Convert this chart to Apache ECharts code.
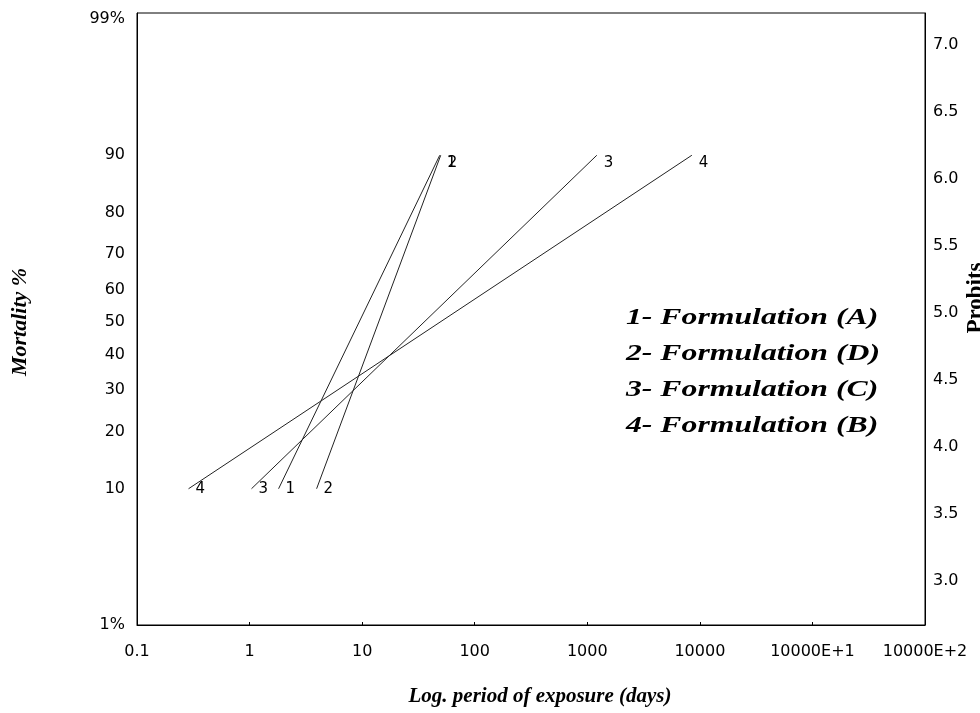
<!DOCTYPE html>
<html>
<head>
<meta charset="utf-8">
<script src="https://cdn.jsdelivr.net/npm/echarts@6/dist/echarts.min.js"></script>
<style>
  html, body { margin: 0; padding: 0; background: #fff; }
  #chart { width: 980px; height: 713px; }
</style>
</head>
<body>
<div id="chart"></div>
<script>
// x axis: exposure period (days), log scale
var xTickLabels = ['0.1', '1', '10', '100', '1000', '10000', '10000E+1', '10000E+2'];

// left axis: mortality %, placed at its probit value
var mortalityLabels = ['1%', '10', '20', '30', '40', '50', '60', '70', '80', '90', '99%'];
var mortalityProbits = [2.674, 3.72, 4.16, 4.48, 4.75, 5.00, 5.25, 5.52, 5.84, 6.28, 7.326];

// right axis: probits
var probitLabels = [3.0, 3.5, 4.0, 4.5, 5.0, 5.5, 6.0, 6.5, 7.0];

// regression lines, each from 10% to 90% mortality (probits 3.72 -> 6.28)
var lineNames = ['1', '2', '3', '4'];
var lineStartDays = [1.81, 3.94, 1.04, 0.287];
var lineEndDays = [48.9, 49.9, 1215, 8490];
var lineStartProbit = 3.72;
var lineEndProbit = 6.28;

var legendLines = ['1- Formulation (A)', '2- Formulation (D)', '3- Formulation (C)', '4- Formulation (B)'];

var chart = echarts.init(document.getElementById('chart'));

var series = lineNames.map(function (name, i) {
    return {
        name: name,
        type: 'line',
        yAxisIndex: 0,
        symbol: 'circle',
        symbolSize: 0,
        lineStyle: { color: '#222', width: 1 },
        label: {
            show: true,
            position: 'right',
            formatter: name,
            color: '#000',
            fontFamily: 'DejaVu Sans',
            fontSize: 15
        },
        data: [
            { value: [lineStartDays[i], lineStartProbit], label: { offset: [2, 0] } },
            { value: [lineEndDays[i], lineEndProbit], label: { offset: [2, 8] } }
        ],
        animation: false
    };
});

var tickFont = { color: '#000', fontFamily: 'DejaVu Sans', fontSize: 16 };
var serifBI = '"Liberation Serif", "Times New Roman", serif';

var option = {
    animation: false,
    grid: {
        left: 137, right: 55, top: 13, bottom: 88,
        show: true, borderColor: '#000', borderWidth: 1
    },
    xAxis: {
        type: 'log',
        logBase: 10,
        min: 0.1,
        max: 1000000,
        interval: 1,
        axisLine: { show: true, lineStyle: { color: '#000', width: 1 } },
        axisTick: { show: true, inside: true, length: 3, lineStyle: { color: '#000' } },
        splitLine: { show: false },
        minorTick: { show: false },
        axisLabel: Object.assign({
            margin: 19,
            formatter: function (v) {
                var k = Math.round(Math.log10(v)) + 1;
                return xTickLabels[k] || '';
            }
        }, tickFont)
    },
    yAxis: [
        {
            type: 'value',
            position: 'left',
            min: 2.674,
            max: 7.372,
            axisLine: { show: true, lineStyle: { color: '#000', width: 1 } },
            axisTick: { show: false },
            splitLine: { show: false },
            axisLabel: Object.assign({
                margin: 12,
                showMinLabel: true,
                showMaxLabel: true,
                customValues: mortalityProbits,
                formatter: function (v) {
                    var idx = mortalityProbits.indexOf(v);
                    return idx >= 0 ? mortalityLabels[idx] : '';
                }
            }, tickFont)
        },
        {
            type: 'value',
            position: 'right',
            min: 2.672,
            max: 7.239,
            axisLine: { show: true, lineStyle: { color: '#000', width: 1 } },
            axisTick: { show: false },
            splitLine: { show: false },
            axisLabel: Object.assign({
                margin: 8,
                customValues: probitLabels,
                formatter: function (v) { return v.toFixed(1); }
            }, tickFont)
        }
    ],
    series: series,
    graphic: [
        {
            type: 'text',
            x: 20, y: 322, rotation: Math.PI / 2,
            style: {
                text: 'Mortality %',
                font: 'italic bold 22px ' + serifBI,
                fill: '#000', align: 'center', verticalAlign: 'middle'
            }
        },
        {
            type: 'text',
            x: 540, y: 697,
            style: {
                text: 'Log. period of exposure (days)',
                font: 'italic bold 21px ' + serifBI,
                fill: '#000', align: 'center', verticalAlign: 'middle'
            }
        },
        {
            type: 'text',
            x: 976, y: 298, rotation: Math.PI / 2,
            style: {
                text: 'Probits',
                font: 'bold 23px ' + serifBI,
                fill: '#000', align: 'center', verticalAlign: 'middle'
            }
        }
    ].concat(legendLines.map(function (t, i) {
        return {
            type: 'text',
            x: 626, y: 318 + i * 36,
            scaleX: 1.38,
            style: {
                text: t,
                font: 'italic bold 23px ' + serifBI,
                fill: '#000', verticalAlign: 'middle'
            }
        };
    }))
};

chart.setOption(option);
</script>
</body>
</html>
